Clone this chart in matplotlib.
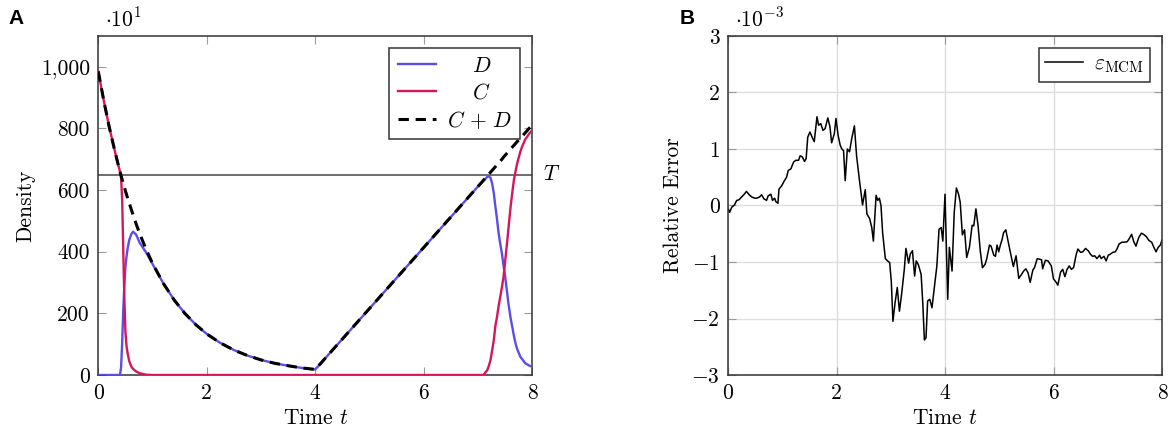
import matplotlib
matplotlib.use("Agg")
import matplotlib.pyplot as plt

plt.rcParams['font.family'] = 'serif'
plt.rcParams['font.serif'] = ['cmr10', 'DejaVu Serif']
plt.rcParams['mathtext.fontset'] = 'cm'
plt.rcParams['axes.unicode_minus'] = False

# ---------------- Panel A data (density, in units of 10^1) ----------------
t_A = [0.0, 0.1, 0.2, 0.3, 0.38, 0.40, 0.42, 0.44, 0.46, 0.48,
       0.50, 0.52, 0.54, 0.57, 0.61, 0.64, 0.70, 0.76, 0.88, 1.0,
       1.2, 1.4, 1.6, 1.8, 2.0, 2.25, 2.5, 2.75, 3.0, 3.25,
       3.5, 3.75, 4.0, 4.5, 5.0, 5.5, 6.0, 6.5, 7.0, 7.10,
       7.17, 7.20, 7.23, 7.26, 7.29, 7.32, 7.35, 7.38, 7.41, 7.44,
       7.47, 7.50, 7.54, 7.56, 7.60, 7.63, 7.66, 7.69, 7.72, 7.78,
       7.81, 7.87, 7.90, 7.95, 8.0]
total_A = [985, 891, 806, 730, 673, 660, 647, 634, 621, 609,
           597, 586, 574, 558, 536, 520, 489, 460, 408, 362,
           297, 243, 199, 163, 133, 104, 81, 63, 49, 38,
           30, 23, 18, 117, 216, 315, 414, 513, 612, 632,
           646, 652, 658, 664, 670, 676, 682, 688, 694, 700,
           707, 713, 721, 725, 733, 739, 745, 751, 757, 768,
           774, 786, 792, 802, 810]
C_A = [985, 891, 806, 730, 673, 660, 640, 567, 405, 250,
       140, 95, 71, 45, 27, 20, 11, 6, 1, 0,
       0, 0, 0, 0, 0, 0, 0, 0, 0, 0,
       0, 0, 0, 0, 0, 0, 0, 0, 0, 0,
       16, 30, 49, 80, 113, 160, 189, 225, 254, 285,
       319, 370, 438, 475, 546, 590, 632, 660, 686, 725,
       740, 765, 772, 785, 794]
D_A = [0, 0, 0, 0, 0, 0, 25, 103, 211, 290,
       350, 384, 410, 438, 458, 465, 455, 430, 398, 360,
       297, 243, 199, 163, 133, 104, 81, 63, 49, 38,
       30, 23, 18, 117, 216, 315, 414, 513, 612, 630,
       643, 645, 640, 621, 590, 546, 505, 459, 425, 394,
       355, 319, 262, 232, 185, 157, 128, 103, 85, 59,
       52, 38, 35, 30, 27]
threshold_T = 650
yticks_A = [0, 200, 400, 600, 800, 1000]
yticklabels_A = ["0", "200", "400", "600", "800", "1,000"]
xticks = [0, 2, 4, 6, 8]

# ---------------- Panel B data (relative error, in units of 10^-3) ----------------
t_B = [0.00, 0.03, 0.07, 0.12, 0.16, 0.20, 0.25, 0.30, 0.34, 0.39,
       0.44, 0.49, 0.53, 0.58, 0.62, 0.66, 0.71, 0.74, 0.79, 0.82,
       0.86, 0.88, 0.92, 0.94, 0.99, 1.04, 1.08, 1.11, 1.16, 1.21,
       1.25, 1.30, 1.33, 1.37, 1.41, 1.44, 1.47, 1.51, 1.56, 1.59,
       1.64, 1.67, 1.71, 1.75, 1.79, 1.84, 1.88, 1.91, 1.96, 1.99,
       2.03, 2.07, 2.10, 2.13, 2.16, 2.20, 2.24, 2.28, 2.33, 2.37,
       2.42, 2.48, 2.53, 2.56, 2.61, 2.65, 2.68, 2.73, 2.76, 2.79,
       2.82, 2.85, 2.90, 2.94, 2.98, 3.01, 3.04, 3.08, 3.12, 3.16,
       3.20, 3.25, 3.28, 3.33, 3.36, 3.40, 3.44, 3.47, 3.51, 3.56,
       3.59, 3.62, 3.65, 3.68, 3.72, 3.76, 3.80, 3.85, 3.89, 3.93,
       3.96, 4.00, 4.05, 4.08, 4.13, 4.17, 4.21, 4.25, 4.28, 4.32,
       4.36, 4.40, 4.45, 4.50, 4.53, 4.57, 4.61, 4.65, 4.69, 4.74,
       4.77, 4.82, 4.85, 4.90, 4.93, 4.96, 4.99, 5.02, 5.05, 5.08,
       5.12, 5.17, 5.22, 5.26, 5.31, 5.36, 5.41, 5.45, 5.49, 5.53,
       5.57, 5.62, 5.65, 5.70, 5.74, 5.78, 5.80, 5.85, 5.90, 5.96,
       6.00, 6.05, 6.08, 6.13, 6.17, 6.21, 6.25, 6.29, 6.33, 6.37,
       6.42, 6.45, 6.50, 6.54, 6.59, 6.64, 6.68, 6.72, 6.76, 6.80,
       6.85, 6.88, 6.93, 6.97, 7.01, 7.05, 7.09, 7.14, 7.17, 7.21,
       7.26, 7.31, 7.36, 7.40, 7.44, 7.48, 7.52, 7.57, 7.62, 7.66,
       7.71, 7.76, 7.81, 7.85, 7.89, 7.93, 7.97, 8.00]
err_B = [-0.05, -0.12, -0.03, 0.01, 0.09, 0.10, 0.15, 0.20, 0.25, 0.19,
         0.15, 0.13, 0.13, 0.15, 0.19, 0.12, 0.09, 0.17, 0.20, 0.09,
         0.13, 0.07, 0.04, 0.29, 0.35, 0.44, 0.50, 0.62, 0.65, 0.77,
         0.80, 0.80, 0.88, 0.86, 0.78, 0.83, 1.21, 1.30, 1.19, 1.13,
         1.57, 1.42, 1.45, 1.33, 1.36, 1.55, 1.39, 1.11, 1.27, 1.54,
         1.24, 1.06, 1.00, 0.97, 0.44, 1.00, 0.95, 1.18, 1.41, 0.88,
         0.47, 0.01, 0.28, -0.15, -0.23, -0.39, -0.63, 0.18, 0.09, 0.13,
         0.00, -0.48, -0.94, -0.98, -1.01, -1.34, -2.05, -1.72, -1.45, -1.87,
         -1.57, -1.13, -0.76, -1.02, -0.86, -0.80, -1.25, -0.98, -1.05, -1.22,
         -1.72, -2.38, -2.34, -1.69, -1.66, -1.81, -1.48, -1.07, -0.42, -0.39,
         -0.63, 0.20, -1.66, -0.74, -1.16, -0.12, 0.31, 0.20, 0.06, -0.52,
         -0.43, -0.92, -0.74, -0.35, -0.36, -0.06, -0.36, -0.80, -1.10, -1.04,
         -0.94, -0.70, -0.72, -0.88, -0.90, -0.70, -0.82, -0.70, -0.61, -0.48,
         -0.43, -0.67, -0.90, -1.08, -0.89, -1.29, -1.22, -1.16, -1.12, -1.19,
         -1.36, -1.14, -1.10, -0.94, -0.95, -0.96, -1.12, -0.97, -0.98, -1.07,
         -1.30, -1.36, -1.41, -1.18, -1.13, -1.26, -1.13, -1.07, -1.13, -1.10,
         -0.86, -0.77, -0.83, -0.82, -0.76, -0.80, -0.86, -0.90, -0.89, -0.94,
         -0.88, -0.94, -0.90, -0.98, -0.88, -0.86, -0.83, -0.82, -0.77, -0.68,
         -0.65, -0.65, -0.64, -0.58, -0.51, -0.64, -0.72, -0.57, -0.49, -0.51,
         -0.55, -0.62, -0.65, -0.74, -0.82, -0.74, -0.70, -0.61]
yticks_B = [-3, -2, -1, 0, 1, 2, 3]
yticklabels_B = [r"$-3$", r"$-2$", r"$-1$", "0", "1", "2", "3"]

BLUE = "#5b4de6"
RED = "#d6165c"
FS = 15.5

fig = plt.figure(figsize=(11.7, 4.43), dpi=100)
axA = fig.add_axes([98.3 / 1170, 68 / 443, 434 / 1170, 339 / 443])
axB = fig.add_axes([728 / 1170, 68 / 443, 434 / 1170, 339 / 443])

for ax in (axA, axB):
    for s in ax.spines.values():
        s.set_color("#333333")
        s.set_linewidth(1.1)
    ax.tick_params(direction="in", top=True, right=True, length=5.5,
                   width=0.8, color="#9a9a9a", labelsize=FS, pad=6)
    ax.set_xlim(0, 8)
    ax.set_xticks(xticks)
    ax.set_xticklabels([str(v) for v in xticks])
    ax.set_xlabel(r"Time $t$", fontsize=FS, labelpad=4)

# ---- Panel A ----
axA.set_ylim(0, 1100)
axA.set_yticks(yticks_A)
axA.set_yticklabels(yticklabels_A)
axA.axhline(threshold_T, color="#555555", lw=1.2, zorder=1)
axA.plot(t_A, D_A, color=BLUE, lw=1.7, label=r"$\quad\ D$", zorder=3)
axA.plot(t_A, C_A, color=RED, lw=1.7, label=r"$\quad\ C$", zorder=3)
axA.plot(t_A, total_A, color="black", lw=2.2, ls=(0, (3.4, 2.2)),
         label=r"$C\,+\,D$", zorder=4)
axA.set_ylabel("Density", fontsize=FS, labelpad=4)
axA.text(1.025, threshold_T, r"$T$", transform=axA.get_yaxis_transform(),
         fontsize=FS, va="center", ha="left")
axA.text(0.015, 1.015, r"$\cdot 10^{1}$", transform=axA.transAxes,
         fontsize=FS, va="bottom", ha="left")
legA = axA.legend(loc="upper right", fontsize=FS, frameon=True, fancybox=False,
                  edgecolor="#333333", framealpha=1, handlelength=1.75,
                  handletextpad=0.5, labelspacing=0.3, borderpad=0.4,
                  borderaxespad=0.55)
legA.get_frame().set_linewidth(1.1)

# ---- Panel B ----
axB.set_ylim(-3, 3)
axB.set_yticks(yticks_B)
axB.set_yticklabels(yticklabels_B)
axB.grid(True, color="#dddddd", lw=1.0)
axB.set_axisbelow(True)
axB.plot(t_B, err_B, color="black", lw=1.1, label=r"$\varepsilon_{\mathrm{MCM}}$")
axB.set_ylabel("Relative Error", fontsize=FS, labelpad=6)
axB.text(0.015, 1.015, r"$\cdot 10^{-3}$", transform=axB.transAxes,
         fontsize=FS, va="bottom", ha="left")
legB = axB.legend(loc="upper right", fontsize=FS, frameon=True, fancybox=False,
                  edgecolor="#333333", framealpha=1, handlelength=1.75,
                  handletextpad=0.5, borderpad=0.3, borderaxespad=0.55)
legB.get_frame().set_linewidth(1.1)

fig.text(8 / 1170, 1 - 18 / 443, "A", fontsize=15, fontweight="bold",
         family="Liberation Sans", va="center", ha="left")
fig.text(680 / 1170, 1 - 18 / 443, "B", fontsize=15, fontweight="bold",
         family="Liberation Sans", va="center", ha="left")

fig.savefig("out.png", dpi=100)
